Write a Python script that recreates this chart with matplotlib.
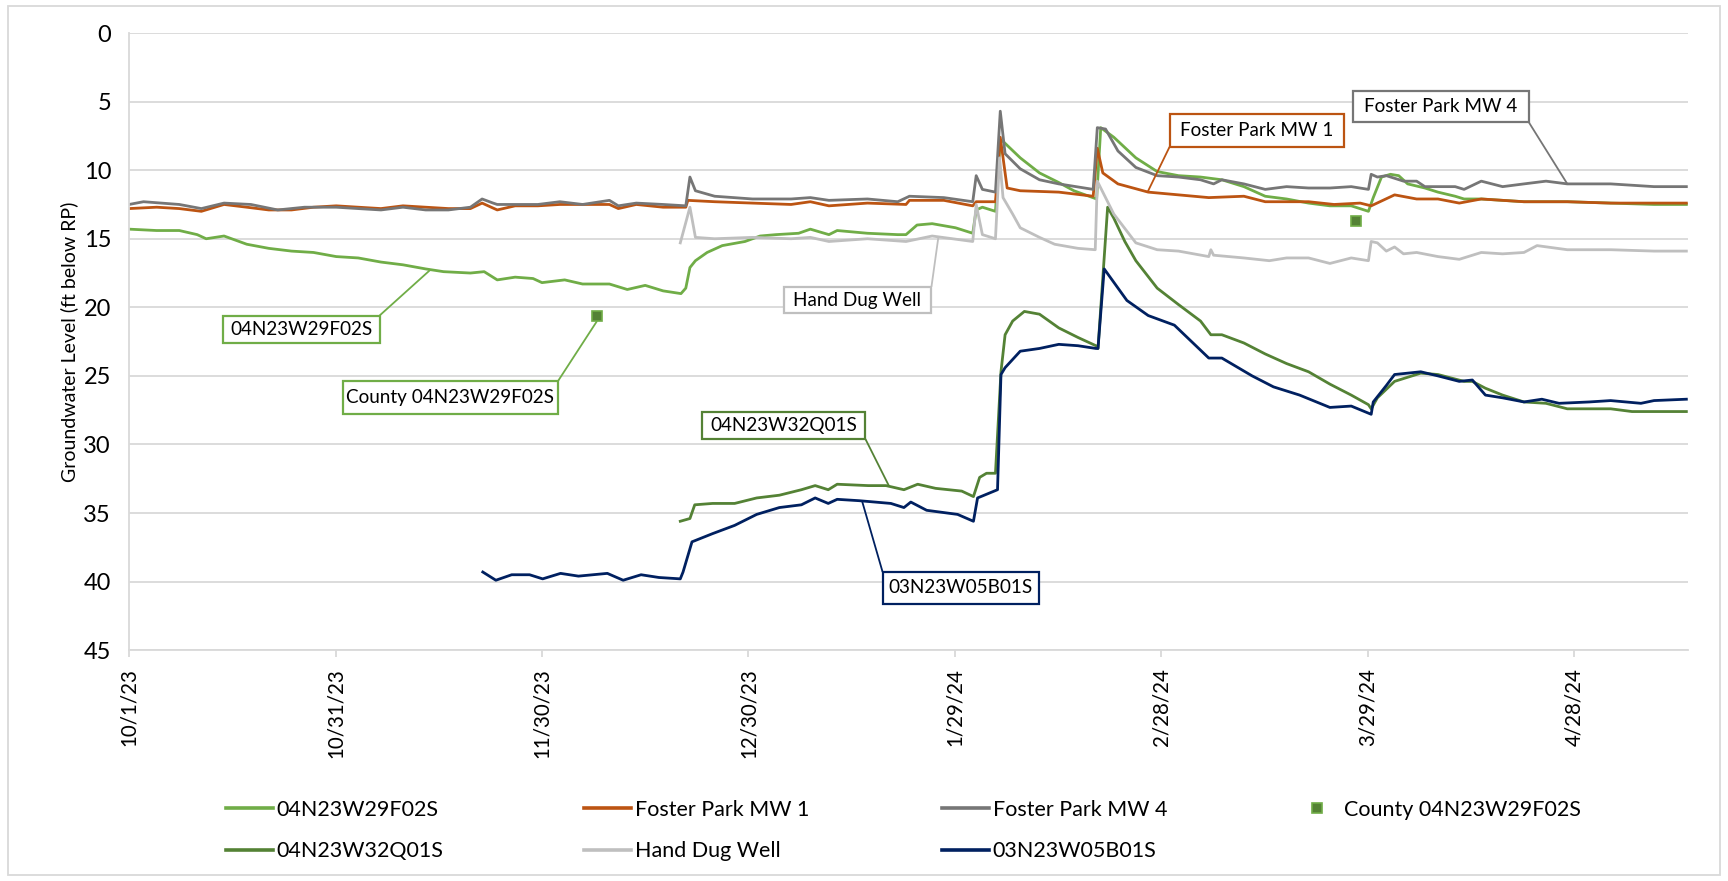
#!/usr/bin/env python3
"""
Groundwater Levels, Oct 2023 - May 2024
=======================================

Transducer records for the Foster Park area wells plus the county manual
measurements. Depth to water is plotted in ft below the reference point, so
the y-axis runs downward.

Output: out.png
"""

from datetime import date, timedelta

import matplotlib
matplotlib.use("Agg")
import matplotlib.pyplot as plt
from matplotlib.lines import Line2D
from matplotlib.patches import Rectangle
from matplotlib.ticker import FixedLocator, FuncFormatter

plt.rcParams["font.family"] = ["Lato", "DejaVu Sans"]

START = date(2023, 10, 1)

# ---- Data (days after 10/1/23, ft below RP) ----
f02s_day = [0.0, 4.0, 7.3, 9.9, 11.2, 13.8, 17.1, 20.3, 23.6, 26.8, 30.1, 33.3,
            36.6, 39.8, 43.1, 45.7, 49.6, 51.6, 53.5, 56.1, 58.7, 60.0, 63.3,
            65.9, 69.8, 72.4, 75.0, 77.6, 80.2, 80.9, 81.5, 82.3, 84.0, 86.2,
            89.5, 91.7, 94.0, 97.3, 99.0, 101.7, 102.9, 107.3, 111.7, 112.9,
            114.5, 116.7, 120.1, 122.6, 123.1, 124.0, 125.9, 126.6, 127.0,
            129.5, 132.3, 135.1, 137.3, 140.6, 141.2, 143.1, 146.3, 149.4,
            152.5, 155.7, 158.8, 162.0, 165.1, 168.2, 171.4, 174.5, 177.6,
            180.1, 180.8, 182.0, 183.3, 184.5, 185.8, 188.3, 190.2, 192.7,
            194.0, 196.5, 202.7, 209.0, 215.3, 221.6, 226.3]
f02s_ft = [14.3, 14.4, 14.4, 14.7, 15.0, 14.8, 15.4, 15.7, 15.9, 16.0, 16.3, 16.4,
           16.7, 16.9, 17.2, 17.4, 17.5, 17.4, 18.0, 17.8, 17.9, 18.2, 18.0,
           18.3, 18.3, 18.7, 18.4, 18.8, 19.0, 18.6, 17.1, 16.6, 16.0, 15.5,
           15.2, 14.8, 14.7, 14.6, 14.3, 14.7, 14.4, 14.6, 14.7, 14.7,
           14.0, 13.9, 14.2, 14.6, 12.9, 12.7, 13.0, 7.8, 7.9,
           9.1, 10.2, 10.9, 11.5, 12.1, 6.9, 7.6, 9.1, 10.1,
           10.4, 10.5, 10.7, 11.2, 11.9, 12.1, 12.4, 12.6, 12.6,
           13.0, 12.0, 10.5, 10.3, 10.4, 11.0, 11.3, 11.6, 11.9,
           12.1, 12.1, 12.3, 12.3, 12.4, 12.5, 12.5]

mw1_day = [0.0, 4.0, 7.3, 10.5, 13.8, 17.1, 20.3, 23.6, 26.8, 30.1, 33.3, 36.6,
           39.8, 43.1, 46.4, 49.6, 51.3, 53.5, 56.1, 59.4, 62.6, 65.9, 69.8,
           71.1, 73.7, 77.6, 80.9, 81.2, 85.1, 90.6, 96.2, 99.0, 101.7, 107.3,
           112.9, 113.4, 118.4, 122.6, 123.1, 125.9, 126.6, 127.6, 129.5,
           135.1, 140.1, 140.7, 141.5, 143.7, 148.1, 152.5, 156.9, 162.0,
           165.1, 171.4, 175.1, 178.9, 180.5, 183.9, 187.1, 190.2, 193.3,
           196.5, 202.7, 209.0, 215.3, 221.6, 226.3]
mw1_ft = [12.8, 12.7, 12.8, 13.0, 12.5, 12.7, 12.9, 12.9, 12.7, 12.6, 12.7, 12.8,
          12.6, 12.7, 12.8, 12.8, 12.4, 12.9, 12.6, 12.6, 12.5, 12.5, 12.5,
          12.8, 12.5, 12.7, 12.7, 12.2, 12.3, 12.4, 12.5, 12.3, 12.6, 12.4,
          12.5, 12.2, 12.2, 12.6, 12.3, 12.3, 7.6, 11.3, 11.5,
          11.6, 11.9, 8.4, 10.2, 11.0, 11.6, 11.8, 12.0, 11.9,
          12.3, 12.3, 12.5, 12.4, 12.6, 11.8, 12.1, 12.1, 12.4,
          12.1, 12.3, 12.3, 12.4, 12.4, 12.4]

mw4_day = [0.0, 2.1, 7.3, 10.5, 13.8, 17.7, 21.6, 25.5, 30.1, 33.3, 36.6, 39.8,
           43.1, 46.4, 49.6, 51.3, 52.9, 53.5, 56.1, 59.4, 62.6, 65.9, 69.8,
           71.1, 73.7, 77.6, 80.9, 81.5, 82.3, 85.1, 90.6, 96.2, 99.0, 101.7,
           107.3, 111.7, 113.4, 118.4, 122.6, 123.1, 124.0, 125.9, 126.6,
           127.3, 129.5, 132.3, 135.1, 140.1, 140.7, 141.9, 143.7, 146.3,
           149.4, 152.5, 155.7, 157.6, 158.8, 162.0, 165.1, 168.2, 171.4,
           174.5, 177.6, 180.1, 180.5, 181.4, 182.7, 185.2, 187.1, 188.3,
           192.7, 194.0, 196.5, 199.6, 202.7, 205.9, 209.0, 215.3, 221.6, 226.3]
mw4_ft = [12.5, 12.3, 12.5, 12.8, 12.4, 12.5, 12.9, 12.7, 12.7, 12.8, 12.9, 12.7,
          12.9, 12.9, 12.7, 12.1, 12.4, 12.5, 12.5, 12.5, 12.3, 12.5, 12.2,
          12.6, 12.4, 12.5, 12.6, 10.5, 11.5, 11.9, 12.1, 12.1, 12.0, 12.2,
          12.1, 12.3, 11.9, 12.0, 12.3, 10.4, 11.4, 11.6, 5.7,
          8.8, 9.9, 10.7, 11.0, 11.4, 6.9, 7.0, 8.6, 9.8,
          10.4, 10.5, 10.7, 11.0, 10.7, 11.0, 11.4, 11.2, 11.3,
          11.3, 11.2, 11.4, 10.3, 10.5, 10.4, 10.8, 10.8, 11.2,
          11.2, 11.4, 10.8, 11.2, 11.0, 10.8, 11.0, 11.0, 11.2, 11.2]

county_day = [68.0, 178.3]
county_ft = [20.6, 13.7]

q01s_day = [80.1, 81.5, 82.2, 84.8, 88.0, 91.2, 94.5, 97.7, 99.7, 101.6, 102.9,
            107.4, 110.0, 112.6, 114.6, 117.2, 121.0, 122.7, 123.6, 124.6,
            125.9, 126.7, 127.3, 128.4, 130.1, 132.3, 135.1, 137.9, 140.5,
            140.8, 142.2, 143.1, 144.7, 146.3, 149.4, 152.5, 155.7, 157.2,
            158.8, 162.0, 165.1, 168.2, 171.4, 174.5, 177.6, 180.1, 180.5,
            181.4, 183.9, 187.7, 190.2, 194.0, 195.2, 197.1, 199.6, 202.7,
            205.9, 209.0, 215.3, 218.4, 221.6, 226.3]
q01s_ft = [35.6, 35.4, 34.4, 34.3, 34.3, 33.9, 33.7, 33.3, 33.0, 33.3, 32.9,
           33.0, 33.0, 33.3, 32.9, 33.2, 33.4, 33.8, 32.4, 32.1,
           32.1, 24.7, 22.0, 21.0, 20.3, 20.5, 21.5, 22.2, 22.8,
           23.0, 12.7, 13.5, 15.2, 16.6, 18.6, 19.8, 21.0, 22.0,
           22.0, 22.6, 23.4, 24.1, 24.7, 25.6, 26.4, 27.1, 27.4,
           26.6, 25.4, 24.8, 24.9, 25.4, 25.4, 25.9, 26.4, 26.9,
           27.0, 27.4, 27.4, 27.6, 27.6, 27.6]

hdw_day = [80.1, 81.5, 82.3, 85.1, 90.6, 96.2, 99.0, 101.7, 107.3, 112.9, 116.7,
           122.6, 123.1, 124.0, 125.9, 126.5, 127.0, 128.4, 129.5, 132.3,
           134.5, 137.9, 140.4, 140.7, 143.1, 146.3, 149.4, 152.5, 156.9,
           157.2, 157.6, 162.0, 165.7, 168.2, 171.4, 174.5, 177.6, 180.1,
           180.5, 181.4, 182.7, 183.9, 185.2, 187.1, 190.2, 193.3, 196.5,
           199.6, 202.7, 204.6, 209.0, 215.3, 221.6, 226.3]
hdw_ft = [15.3, 12.7, 14.9, 15.0, 14.9, 15.0, 14.9, 15.2, 15.0, 15.2, 14.8,
          15.2, 12.5, 14.7, 15.0, 9.1, 12.0, 13.2, 14.2, 14.9,
          15.4, 15.7, 15.8, 10.8, 13.2, 15.3, 15.8, 15.9, 16.3,
          15.8, 16.2, 16.4, 16.6, 16.4, 16.4, 16.8, 16.4, 16.6,
          15.2, 15.3, 15.9, 15.6, 16.1, 16.0, 16.3, 16.5, 16.0,
          16.1, 16.0, 15.5, 15.8, 15.8, 15.9, 15.9]

b01s_day = [51.4, 53.3, 55.6, 58.2, 60.1, 62.7, 65.3, 69.5, 71.8, 74.4, 77.0,
            80.1, 80.5, 81.8, 84.8, 88.0, 91.2, 94.5, 97.7, 99.7, 101.6, 102.9,
            106.1, 110.7, 112.6, 113.6, 115.9, 120.4, 122.7, 123.3, 126.2,
            126.7, 127.3, 129.5, 132.3, 135.1, 137.9, 140.5, 140.8, 141.7,
            145.0, 148.1, 151.9, 154.4, 156.9, 158.8, 163.2, 166.3, 170.1,
            174.5, 177.6, 180.5, 180.8, 182.7, 183.9, 187.7, 190.2, 193.3,
            195.2, 197.1, 199.6, 202.7, 205.3, 207.8, 212.2, 215.3, 219.7,
            221.6, 226.3]
b01s_ft = [39.3, 39.9, 39.5, 39.5, 39.8, 39.4, 39.6, 39.4, 39.9, 39.5, 39.7,
           39.8, 39.3, 37.1, 36.5, 35.9, 35.1, 34.6, 34.4, 33.9, 34.3, 34.0,
           34.1, 34.3, 34.6, 34.2, 34.8, 35.1, 35.6, 33.9, 33.3,
           24.9, 24.4, 23.2, 23.0, 22.7, 22.8, 23.0, 23.0, 17.2,
           19.5, 20.6, 21.3, 22.5, 23.7, 23.7, 25.0, 25.8, 26.4,
           27.3, 27.2, 27.8, 26.9, 25.7, 24.9, 24.7, 25.0, 25.4,
           25.3, 26.4, 26.6, 26.9, 26.7, 27.0, 26.9, 26.8, 27.0,
           26.8, 26.7]

tick_days = [0, 30, 60, 90, 120, 150, 180, 210]

# ---- Styles ----
C_F02S = "#70AD47"
C_MW1 = "#BC5412"
C_MW4 = "#767676"
C_Q01S = "#548235"
C_HDW = "#BFBFBF"
C_B01S = "#002060"
LW = 2.0


def day_label(d, _pos=None):
    t = START + timedelta(days=int(round(d)))
    return f"{t.month}/{t.day}/{t.strftime('%y')}"


fig = plt.figure(figsize=(17.28, 8.81), dpi=100)
ax = fig.add_axes([0.0747, 0.262, 0.902, 0.7005])

ax.plot(f02s_day, f02s_ft, color=C_F02S, lw=LW, label="04N23W29F02S")
ax.plot(mw1_day, mw1_ft, color=C_MW1, lw=LW, label="Foster Park MW 1")
ax.plot(mw4_day, mw4_ft, color=C_MW4, lw=LW, label="Foster Park MW 4")
ax.plot(county_day, county_ft, ls="none", marker="s", ms=7,
        mfc=C_Q01S, mec=C_F02S, mew=1.2, label="County 04N23W29F02S")
ax.plot(q01s_day, q01s_ft, color=C_Q01S, lw=LW, label="04N23W32Q01S")
ax.plot(hdw_day, hdw_ft, color=C_HDW, lw=LW, label="Hand Dug Well")
ax.plot(b01s_day, b01s_ft, color=C_B01S, lw=LW, label="03N23W05B01S")

# ---- Axes ----
ax.set_xlim(0, 226.5)
ax.set_ylim(45, 0)
ax.set_yticks(range(0, 50, 5))
ax.xaxis.set_major_locator(FixedLocator(tick_days))
ax.xaxis.set_major_formatter(FuncFormatter(day_label))
ax.grid(axis="y", color="#D9D9D9", lw=1.3)
ax.set_axisbelow(True)
for side in ("top", "right"):
    ax.spines[side].set_visible(False)
for side in ("left", "bottom"):
    ax.spines[side].set_color("#D9D9D9")
    ax.spines[side].set_linewidth(1.3)
ax.tick_params(axis="y", length=0, pad=13, labelsize=17, labelcolor="#000000")
ax.tick_params(axis="x", length=5, width=1.3, color="#D9D9D9", pad=8,
               labelsize=14.8, labelrotation=90)
ax.set_ylabel("Groundwater Level (ft below RP)", fontsize=14, labelpad=4)

# ---- Callout boxes: label, colour, box (x0, x1, ft top, ft bottom),
#      leader start, leader end ----
callouts = [
    ("04N23W29F02S", C_F02S, (13.6, 36.4, 20.6, 22.6), (36.4, 20.6), (43.7, 17.3)),
    ("County 04N23W29F02S", C_F02S, (31.1, 62.3, 25.4, 27.8), (62.3, 25.4), (68.0, 21.0)),
    ("Hand Dug Well", C_HDW, (95.1, 116.6, 18.5, 20.45), (116.6, 18.5), (117.6, 14.9)),
    ("04N23W32Q01S", C_Q01S, (83.3, 107.0, 27.65, 29.6), (107.0, 29.6), (110.4, 33.0)),
    ("03N23W05B01S", C_B01S, (109.5, 132.2, 39.3, 41.6), (109.5, 39.3), (106.5, 34.1)),
    ("Foster Park MW 1", C_MW1, (151.2, 176.6, 5.9, 8.3), (151.2, 8.3), (148.0, 11.6)),
    ("Foster Park MW 4", C_MW4, (177.9, 203.4, 4.2, 6.5), (203.4, 6.5), (209.0, 11.0)),
]
for text, color, (x0, x1, y0, y1), start, end in callouts:
    ax.plot([start[0], end[0]], [start[1], end[1]], color=color, lw=1.3,
            solid_capstyle="butt", zorder=4)
    ax.add_patch(Rectangle((x0, y0), x1 - x0, y1 - y0, facecolor="white",
                           edgecolor=color, lw=1.6, zorder=5))
    ax.text((x0 + x1) / 2, (y0 + y1) / 2, text, ha="center", va="center",
            fontsize=13.6, zorder=6)

# ---- Legend: four fixed-width columns under the plot ----
handles, labels = ax.get_legend_handles_labels()
by_label = dict(zip(labels, handles))
columns = [
    ["04N23W29F02S", "04N23W32Q01S"],
    ["Foster Park MW 1", "Hand Dug Well"],
    ["Foster Park MW 4", "03N23W05B01S"],
    ["County 04N23W29F02S"],
]
col_x = [226, 584, 942, 1293]
for names, x in zip(columns, col_x):
    hs = []
    for n in names:
        h = by_label[n]
        if n.startswith("County"):
            hs.append(Line2D([], [], ls="none", marker="s", ms=7,
                             mfc=C_Q01S, mec=C_F02S, mew=1.2))
        else:
            hs.append(Line2D([], [], color=h.get_color(), lw=2.6))
    fig.legend(hs, names, loc="upper left",
               bbox_to_anchor=(x / 1728, 1 - 800 / 881),
               frameon=False, fontsize=15.5, handlelength=2.2,
               handletextpad=0.15, borderpad=0, borderaxespad=0,
               labelspacing=0.98)

# chart area border
fig.add_artist(Rectangle((8 / 1728, 6 / 881), 1712 / 1728, 869 / 881,
                         transform=fig.transFigure, fill=False,
                         edgecolor="#D9D9D9", lw=1.3))

fig.savefig("out.png", dpi=100)
